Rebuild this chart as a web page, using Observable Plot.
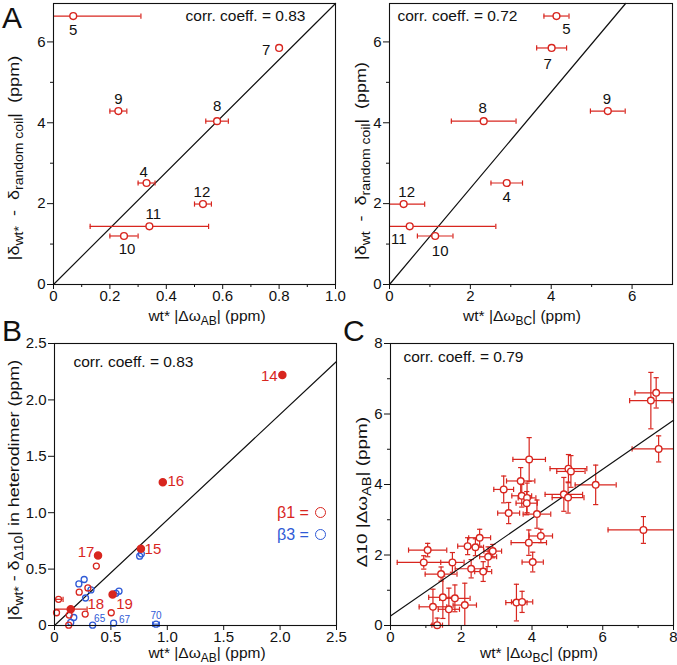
<!DOCTYPE html>
<html><head><meta charset="utf-8">
<script src="https://cdn.jsdelivr.net/npm/d3@7"></script>
<script src="https://cdn.jsdelivr.net/npm/@observablehq/plot@0.6"></script>
<style>
body{margin:0;background:#fff;font-family:"Liberation Sans",Arial,Helvetica,sans-serif;}
#fig{position:relative;width:677px;height:665px;overflow:hidden;background:#fff;}
.pl{position:absolute;}
.lbl{position:absolute;font-size:15.5px;white-space:nowrap;color:#111;line-height:1;}
.lbl sub{font-size:12px;vertical-align:-4px;line-height:0;}
.letter{position:absolute;font-size:30px;line-height:1;color:#111;}
.leg{position:absolute;font-size:16px;line-height:1;white-space:nowrap;}
.leg i{display:inline-block;width:9px;height:9px;border:1.6px solid currentColor;border-radius:50%;vertical-align:0px;margin-left:2px;}
</style></head>
<body>
<div id="fig"></div>
<script>
// ---------------- DATA ----------------
// Panel A (residues of the peptide)
const residuesA   = ["4", "5", "7", "8", "9", "10", "11", "12"];
const shiftDevA   = [2.51, 6.64, 5.85, 4.04, 4.29, 1.20, 1.44, 1.99]; // |δwt* − δrandom coil| (ppm)
const dwAB_A      = [0.33, 0.07, 0.80, 0.58, 0.23, 0.25, 0.34, 0.53]; // wt* |ΔωAB| (ppm)
const dwAB_A_err  = [0.03, 0.24, 0.00, 0.04, 0.03, 0.05, 0.21, 0.03];
const dwBC_A      = [2.90, 4.13, 4.01, 2.33, 5.40, 1.13, 0.50, 0.35]; // wt* |ΔωBC| (ppm)
const dwBC_A_err  = [0.39, 0.31, 0.37, 0.80, 0.43, 0.44, 2.13, 0.52];
const fitA_AB = [[0, 0], [1.0, 6.95]];
const fitA_BC = [[0, 0], [5.84, 6.95]];
const corrA_AB = "corr. coeff. = 0.83";
const corrA_BC = "corr. coeff. = 0.72";

// Panel B
const b1LabRes  = ["14", "15", "16", "17", "18", "19"];
const b1LabX    = [2.02, 0.766, 0.96, 0.386, 0.144, 0.515];
const b1LabY    = [2.22, 0.68, 1.27, 0.62, 0.145, 0.275];
const b1LabXerr = [0, 0, 0, 0, 0.145, 0];
const b1OpenX    = [0.371, 0.036, 0.219, 0.296, 0.018, 0.130, 0.126, 0.272, 0.503];
const b1OpenY    = [0.527, 0.232, 0.295, 0.333, 0.113, 0.092, 0.003, 0.101, 0.113];
const b1OpenXerr = [0, 0.04, 0, 0, 0, 0, 0, 0, 0];
const b3Res  = ["", "", "", "", "", "", "", "", "", "", "65", "67", "70"];
const b3X    = [0.755, 0.770, 0.263, 0.216, 0.323, 0.275, 0.572, 0.545, 0.171, 0.144, 0.338, 0.524, 0.900];
const b3Y    = [0.615, 0.635, 0.408, 0.369, 0.315, 0.244, 0.304, 0.285, 0.071, 0.027, 0.003, 0.021, 0.012];
const b3Xerr = [0, 0, 0, 0, 0, 0, 0, 0, 0, 0, 0, 0, 0.03];
const fitB = [[0, 0], [2.5, 2.34]];
const corrB = "corr. coeff. = 0.83";

// Panel C
const cX    = [7.51, 7.36, 7.58, 7.15, 5.80, 5.03, 5.10, 4.90, 5.02, 3.92, 3.68, 3.20, 3.71, 3.86, 3.85, 3.34, 4.14, 4.25, 3.91, 4.02, 2.52, 2.18, 2.40, 2.89, 2.76, 2.28, 2.62, 1.75, 0.94, 1.05, 1.43, 1.48, 1.82, 1.20, 1.65, 2.10, 1.32, 3.56, 3.72];
const cY    = [6.60, 6.38, 5.01, 2.71, 3.99, 4.45, 4.37, 3.72, 3.63, 4.71, 4.10, 3.86, 3.68, 3.62, 3.47, 3.19, 3.16, 2.54, 2.35, 1.80, 2.49, 2.25, 2.22, 2.11, 1.95, 1.61, 1.53, 1.79, 1.79, 2.14, 1.46, 0.80, 0.77, 0.53, 0.46, 0.58, 0.01, 0.65, 0.67];
const cXerr = [0.60, 0.60, 0.75, 1.00, 0.58, 0.52, 0.40, 0.53, 0.45, 0.46, 0.40, 0.28, 0.28, 0.25, 0.30, 0.31, 0.39, 0.33, 0.50, 0.30, 0.31, 0.28, 0.23, 0.25, 0.24, 0.45, 0.24, 0.33, 0.75, 0.54, 0.45, 0.40, 0.43, 0.39, 0.30, 0.33, 0.15, 0.30, 0.30];
const cYerr = [0.43, 0.80, 0.37, 0.38, 0.56, 0.40, 0.45, 0.48, 0.44, 0.62, 0.38, 0.38, 0.32, 0.42, 0.33, 0.30, 0.40, 0.19, 0.36, 0.28, 0.24, 0.24, 0.24, 0.19, 0.28, 0.26, 0.28, 0.28, 0.19, 0.19, 0.20, 0.60, 0.38, 0.50, 0.60, 0.62, 0.20, 0.52, 0.30];
const fitC = [[0, 0.27], [8, 5.82]];
const corrC = "corr. coeff. = 0.79";

// ---------------- DRAWING ----------------
const RED = "#d8261f", BLUE = "#2f5ad6", INK = "#111";
const vbar = {draw(ctx, size) { const r = Math.sqrt(size / Math.PI); ctx.moveTo(0, -r); ctx.lineTo(0, r); }};
const hbar = {draw(ctx, size) { const r = Math.sqrt(size / Math.PI); ctx.moveTo(-r, 0); ctx.lineTo(r, 0); }};
const fig = document.getElementById("fig");
const one = d => d === 0 ? "0" : d.toFixed(1);
const int = d => String(d);

function hErr(rows, xmin, xmax, color) {
  const d = rows.filter(r => r.xe > 0).map(r => ({...r, lo: Math.max(xmin, r.x - r.xe), hi: Math.min(xmax, r.x + r.xe)}));
  const caps = [];
  d.forEach(r => { if (r.x - r.xe >= xmin) caps.push({x: r.lo, y: r.y}); if (r.x + r.xe <= xmax) caps.push({x: r.hi, y: r.y}); });
  return [
    Plot.ruleY(d, {y: "y", x1: "lo", x2: "hi", stroke: color, strokeWidth: 1.2}),
    Plot.dot(caps, {x: "x", y: "y", symbol: vbar, r: 2.6, fill: "none", stroke: color, strokeWidth: 1.2})
  ];
}
function vErr(rows, ymin, ymax, color) {
  const d = rows.filter(r => r.ye > 0).map(r => ({...r, lo: Math.max(ymin, r.y - r.ye), hi: Math.min(ymax, r.y + r.ye)}));
  const caps = [];
  d.forEach(r => { if (r.y - r.ye >= ymin) caps.push({x: r.x, y: r.lo}); if (r.y + r.ye <= ymax) caps.push({x: r.x, y: r.hi}); });
  return [
    Plot.ruleX(d, {x: "x", y1: "lo", y2: "hi", stroke: color, strokeWidth: 1.2}),
    Plot.dot(caps, {x: "x", y: "y", symbol: hbar, r: 2.6, fill: "none", stroke: color, strokeWidth: 1.2})
  ];
}
function axes(xt, xm, xf, yt, ym, yf) {
  return [
    Plot.axisX({ticks: xt, tickFormat: xf, tickSize: 5, tickPadding: 1, label: null}),
    Plot.axisX({ticks: xm, tickFormat: () => "", tickSize: 3, label: null}),
    Plot.axisY({ticks: yt, tickFormat: yf, tickSize: 6, tickPadding: 2, label: null}),
    Plot.axisY({ticks: ym, tickFormat: () => "", tickSize: 3, label: null})
  ];
}
function labels(rows, off, opts) {
  return rows.filter(r => off[r.res]).map(r => Plot.text([r], {x: "x", y: "y", text: "res", dx: off[r.res][0], dy: off[r.res][1], ...opts}));
}
function place(plot, left, top) {
  const d = document.createElement("div");
  d.className = "pl"; d.style.left = left + "px"; d.style.top = top + "px";
  d.appendChild(plot); fig.appendChild(d);
}
const style = {fontFamily: '"Liberation Sans", Arial, Helvetica, sans-serif', fontSize: "15px", color: INK, background: "transparent", overflow: "visible"};

// ---- Panel A, left ----
{
  const rows = residuesA.map((r, i) => ({res: r, x: dwAB_A[i], y: shiftDevA[i], xe: dwAB_A_err[i]}));
  const off = {"5": [0, 14], "7": [-13, 2], "9": [0, -12], "8": [0, -15], "4": [-3, -11], "12": [-1, -12], "11": [4, -12], "10": [3, 13]};
  place(Plot.plot({
    width: 340, height: 330, marginLeft: 53, marginRight: 5, marginTop: 3, marginBottom: 46,
    x: {domain: [0, 1]}, y: {domain: [0, 6.95]}, style,
    marks: [
      ...axes(d3.range(0, 1.01, 0.2), d3.range(0.1, 1, 0.2), one, [0, 2, 4, 6], [1, 3, 5], int),
      Plot.line(fitA_AB, {x: d => d[0], y: d => d[1], stroke: INK, strokeWidth: 1.2}),
      ...hErr(rows, 0, 1, RED),
      Plot.dot(rows, {x: "x", y: "y", r: 3.4, fill: "white", stroke: RED, strokeWidth: 1.4}),
      ...labels(rows, off, {fontSize: 15}),
      Plot.text([corrA_AB], {text: d => d, frameAnchor: "top-right", textAnchor: "end", lineAnchor: "middle", dx: -30, dy: 13, fontSize: 15.5}),
      Plot.frame({stroke: INK, strokeWidth: 1.1})
    ]
  }), 0, 0);
}
// ---- Panel A, right ----
{
  const rows = residuesA.map((r, i) => ({res: r, x: dwBC_A[i], y: shiftDevA[i], xe: dwBC_A_err[i]}));
  const off = {"5": [10, 13], "7": [-4, 16], "9": [-1, -12], "8": [-1, -13], "4": [0, 14], "12": [3, -12], "11": [-11, 13], "10": [5, 15]};
  place(Plot.plot({
    width: 337, height: 330, marginLeft: 49, marginRight: 5, marginTop: 3, marginBottom: 46,
    x: {domain: [0, 7]}, y: {domain: [0, 6.95]}, style,
    marks: [
      ...axes([0, 2, 4, 6], [1, 3, 5], int, [0, 2, 4, 6], [1, 3, 5], int),
      Plot.line(fitA_BC, {x: d => d[0], y: d => d[1], stroke: INK, strokeWidth: 1.2}),
      ...hErr(rows, 0, 7, RED),
      Plot.dot(rows, {x: "x", y: "y", r: 3.4, fill: "white", stroke: RED, strokeWidth: 1.4}),
      ...labels(rows, off, {fontSize: 15}),
      Plot.text([corrA_BC], {text: d => d, frameAnchor: "top-left", textAnchor: "start", lineAnchor: "middle", dx: 8, dy: 13, fontSize: 15.5}),
      Plot.frame({stroke: INK, strokeWidth: 1.1})
    ]
  }), 340, 0);
}
// ---- Panel B ----
{
  const lab = b1LabRes.map((r, i) => ({res: r, x: b1LabX[i], y: b1LabY[i], xe: b1LabXerr[i]}));
  const open1 = b1OpenX.map((x, i) => ({x, y: b1OpenY[i], xe: b1OpenXerr[i]}));
  const open3 = b3X.map((x, i) => ({res: b3Res[i], x, y: b3Y[i], xe: b3Xerr[i]}));
  const offR = {"14": [-13, 1], "16": [13, -1], "15": [12, 0], "17": [-12, -3], "18": [25, -5], "19": [12, 10]};
  const offB = {"65": [7, -6], "67": [11, -3], "70": [0, -8]};
  place(Plot.plot({
    width: 340, height: 335, marginLeft: 54, marginRight: 4, marginTop: 13, marginBottom: 40,
    x: {domain: [0, 2.5]}, y: {domain: [0, 2.5]}, style,
    marks: [
      ...axes(d3.range(0, 2.51, 0.5), [], one, d3.range(0, 2.51, 0.5), [], one),
      Plot.line(fitB, {x: d => d[0], y: d => d[1], stroke: INK, strokeWidth: 1.2}),
      ...hErr(open3, 0, 2.5, BLUE),
      Plot.dot(open3, {x: "x", y: "y", r: 3, fill: "none", stroke: BLUE, strokeWidth: 1.3}),
      ...hErr(open1, 0, 2.5, RED),
      Plot.dot(open1, {x: "x", y: "y", r: 3, fill: "none", stroke: RED, strokeWidth: 1.3}),
      ...hErr(lab, 0, 2.5, RED),
      Plot.dot(lab, {x: "x", y: "y", r: 3.5, fill: RED, stroke: RED}),
      ...labels(lab, offR, {fontSize: 15, fill: RED}),
      ...labels(open3, offB, {fontSize: 10, fill: BLUE}),
      Plot.text([corrB], {text: d => d, frameAnchor: "top-left", textAnchor: "start", lineAnchor: "middle", dx: 19, dy: 19, fontSize: 15.5}),
      Plot.frame({stroke: INK, strokeWidth: 1.1})
    ]
  }), 0, 330);
}
// ---- Panel C ----
{
  const rows = cX.map((x, i) => ({x, y: cY[i], xe: cXerr[i], ye: cYerr[i]}));
  place(Plot.plot({
    width: 337, height: 335, marginLeft: 50, marginRight: 4, marginTop: 13, marginBottom: 40,
    x: {domain: [0, 8]}, y: {domain: [0, 8]}, style,
    marks: [
      ...axes([0, 2, 4, 6, 8], [1, 3, 5, 7], int, [0, 2, 4, 6, 8], [1, 3, 5, 7], int),
      ...hErr(rows, 0, 8, RED),
      ...vErr(rows, 0, 8, RED),
      Plot.line(fitC, {x: d => d[0], y: d => d[1], stroke: INK, strokeWidth: 1.2}),
      Plot.dot(rows, {x: "x", y: "y", r: 3.3, fill: "white", stroke: RED, strokeWidth: 1.4}),
      Plot.text([corrC], {text: d => d, frameAnchor: "top-left", textAnchor: "start", lineAnchor: "middle", dx: 13, dy: 14, fontSize: 15.5}),
      Plot.frame({stroke: INK, strokeWidth: 1.1})
    ]
  }), 340, 330);
}

// ---- HTML text: panel letters, axis titles, legend ----
function addLabel(html, cx, cy, rot, targetLen) {
  const el = document.createElement("div");
  el.className = "lbl"; el.innerHTML = html;
  el.style.left = cx + "px"; el.style.top = cy + "px";
  fig.appendChild(el);
  const w = el.offsetWidth;
  const k = targetLen ? targetLen / w : 1;
  el.style.transform = `translate(-50%,-50%)${rot ? " rotate(-90deg)" : ""} scaleX(${k.toFixed(3)})`;
}
function addLetter(t, left, top) {
  const el = document.createElement("div"); el.className = "letter"; el.textContent = t;
  el.style.left = left + "px"; el.style.top = top + "px"; fig.appendChild(el);
}
addLetter("A", 2, 3); addLetter("B", 2, 316); addLetter("C", 343, 316);

addLabel("wt* |Δω<sub>AB</sub>| (ppm)", 207, 316, false);
addLabel("wt* |Δω<sub>BC</sub>| (ppm)", 522, 316, false);
addLabel("wt* |Δω<sub>AB</sub>| (ppm)", 207, 653, false);
addLabel("wt* |Δω<sub>BC</sub>| (ppm)", 539, 653, false);
addLabel("|δ<sub>wt*</sub>&nbsp;&nbsp;-&nbsp;&nbsp;δ<sub>random coil</sub>|&nbsp;&nbsp;(ppm)", 14, 158, true, 205);
addLabel("|δ<sub>wt</sub>&nbsp;&nbsp;-&nbsp;&nbsp;δ<sub>random coil</sub>|&nbsp;&nbsp;(ppm)", 361, 161, true, 198);
addLabel("|δ<sub>wt*</sub>&nbsp;-&nbsp;δ<sub>Δ10</sub>| in heterodimer (ppm)", 14, 490, true, 260);
addLabel("Δ10 |Δω<sub>AB</sub>| (ppm)", 362, 492, true, 150);

const legend = [["β1", RED, 505], ["β3", BLUE, 527]];
legend.forEach(([t, c, top]) => {
  const el = document.createElement("div"); el.className = "leg";
  el.style.left = "277px"; el.style.top = top + "px"; el.style.color = c;
  el.innerHTML = `${t} = <i></i>`; fig.appendChild(el);
});
</script>
</body></html>
